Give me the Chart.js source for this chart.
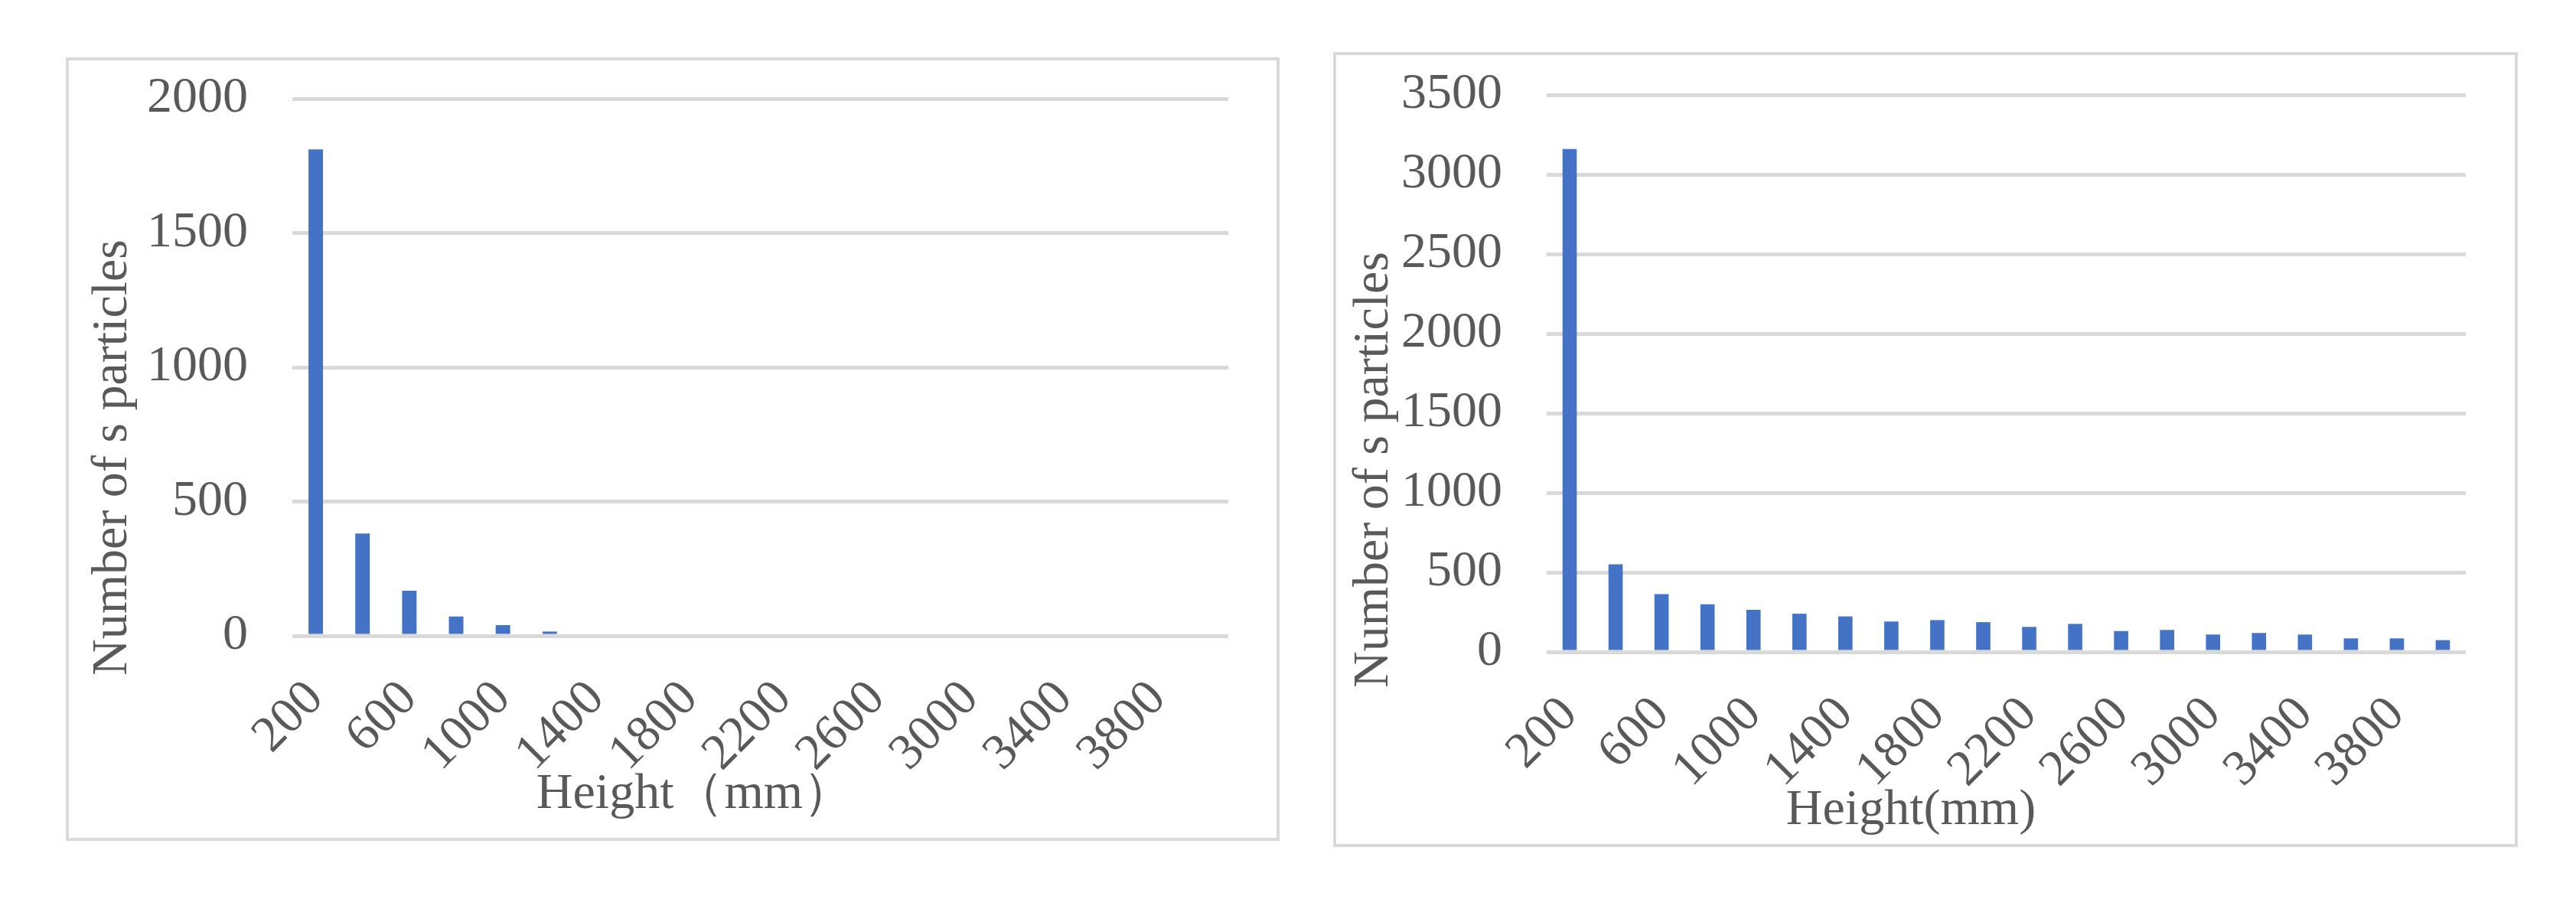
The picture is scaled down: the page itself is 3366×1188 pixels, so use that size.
<!DOCTYPE html>
<html>
<head>
<meta charset="utf-8">
<script src="https://cdn.jsdelivr.net/npm/chart.js@4.4.1/dist/chart.umd.min.js"></script>
<style>
  html, body { margin: 0; padding: 0; background: #fff; }
  body { width: 3366px; height: 1188px; position: relative; overflow: hidden; }
  .box { position: absolute; box-sizing: border-box; border: 4px solid #d9d9d9; background: #fff; }
  .box canvas { display: block; }
  #boxLeft { left: 86px; top: 75px; width: 1586px; height: 1024px; }
  #boxRight { left: 1742px; top: 68px; width: 1548px; height: 1039px; }
</style>
</head>
<body>
<div class="box" id="boxLeft"><canvas id="chartLeft"></canvas></div>
<div class="box" id="boxRight"><canvas id="chartRight"></canvas></div>
<script>
// Height classes (mm), shared by both charts
const heights = ['200', '400', '600', '800', '1000', '1200', '1400', '1600', '1800', '2000',
                 '2200', '2400', '2600', '2800', '3000', '3200', '3400', '3600', '3800', '4000'];

// Number of s particles per height class
const countsLeft = [1811, 381, 168, 72, 40, 16, 0, 0, 0, 0, 0, 0, 0, 0, 0, 0, 0, 0, 0, 0];
const countsRight = [3160, 550, 363, 299, 265, 240, 223, 191, 200, 187,
                     157, 176, 131, 138, 109, 119, 109, 85, 85, 74];

// y axis ticks
const yTicksLeft = [0, 500, 1000, 1500, 2000];
const yTicksRight = [0, 500, 1000, 1500, 2000, 2500, 3000, 3500];

const FONT = '"Liberation Serif", "Times New Roman", serif';
const TEXT = '#595959';
const GRID = '#d9d9d9';
const BAR = '#4472c4';
const NONE = 'rgba(0,0,0,0)';

// draws the two axis titles where Excel had put them
const axisTitles = {
  id: 'axisTitles',
  afterDraw(chart, args, opts) {
    const ctx = chart.ctx;
    ctx.save();
    ctx.fillStyle = TEXT;
    ctx.font = '66px ' + FONT;
    ctx.textAlign = 'center';
    ctx.textBaseline = 'middle';
    ctx.fillText(opts.xText, opts.xPos[0], opts.xPos[1]);
    ctx.translate(opts.yPos[0], opts.yPos[1]);
    ctx.rotate(-Math.PI / 2);
    ctx.fillText(opts.yText, 0, 0);
    ctx.restore();
  }
};

function makeChart(id, values, yTicks, cfg) {
  const ctx = document.getElementById(id).getContext('2d');
  return new Chart(ctx, {
    type: 'bar',
    data: {
      labels: heights,
      datasets: [{
        data: values,
        backgroundColor: BAR,
        barPercentage: 0.31,
        categoryPercentage: 1.0
      }]
    },
    options: {
      responsive: true,
      maintainAspectRatio: false,
      animation: false,
      layout: { padding: { left: 0, right: cfg.padRight, top: cfg.padTop, bottom: 0 } },
      plugins: {
        legend: { display: false },
        tooltip: { enabled: false },
        axisTitles: { xText: cfg.xTitle, xPos: cfg.xTitlePos, yText: 'Number of s particles', yPos: cfg.yTitlePos }
      },
      scales: {
        x: {
          // invisible tick marks give the label gap without inflating the layout padding
          grid: { drawOnChartArea: false, drawTicks: true, tickLength: 44, tickColor: NONE, color: NONE },
          border: { display: false },
          ticks: {
            autoSkip: false,
            minRotation: 45,
            maxRotation: 45,
            padding: 0,
            color: TEXT,
            font: { family: FONT, size: 66 },
            callback: function (value, index) {
              return index % 2 === 0 ? this.getLabelForValue(value) : '';
            }
          },
          afterFit: function (scale) { scale.height = cfg.xHeight; }
        },
        y: {
          min: yTicks[0],
          max: yTicks[yTicks.length - 1],
          grid: { color: GRID, lineWidth: 5, drawTicks: true, tickLength: 58, tickColor: NONE },
          border: { display: false },
          ticks: {
            stepSize: yTicks[1] - yTicks[0],
            padding: 0,
            color: TEXT,
            font: { family: FONT, size: 66 },
            callback: function (value) { return String(value); }
          },
          afterFit: function (scale) { scale.width = cfg.yWidth; }
        }
      }
    },
    plugins: [axisTitles]
  });
}

makeChart('chartLeft', countsLeft, yTicksLeft, {
  padRight: 63, padTop: 50, xHeight: 264, yWidth: 292,
  xTitle: 'Height（mm）', xTitlePos: [818, 960], yTitlePos: [58, 519]
});

makeChart('chartRight', countsRight, yTicksRight, {
  padRight: 64, padTop: 52, xHeight: 251, yWidth: 275,
  xTitle: 'Height(mm)', xTitlePos: [751, 988], yTitlePos: [50, 542]
});
</script>
</body>
</html>
